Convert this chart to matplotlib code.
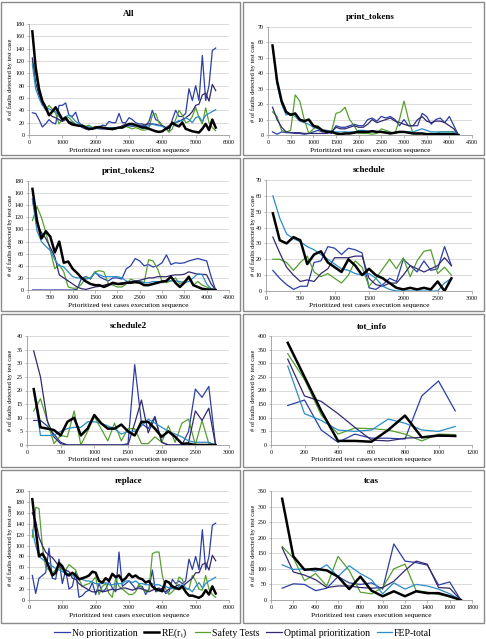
import numpy as np
import matplotlib
matplotlib.use('Agg')
from matplotlib import pyplot as plt
from matplotlib.patches import Rectangle

plt.rcParams['font.family'] = ['Liberation Serif', 'DejaVu Serif']
plt.rcParams['mathtext.fontset'] = 'stix'

series_names = ['No prioritization', 'RE(r$_\\mathregular{i}$)', 'Safety Tests',
                'Optimal prioritization', 'FEP-total']
colors = ['#2B3FA6', '#000000', '#55A02F', '#33296E', '#2C8CC6']
widths = [0.9, 1.8, 0.9, 0.9, 0.9]

# ---- All (x = 100..5600)
all_x = np.arange(100, 5601, 100)
all_nop = [36,35,25,13,18,25,20,18,48,48, 52,32,30,37,20,15,10,8,12,10,
           12,16,15,22,20,20,35,20,20,28, 25,20,18,18,15,22,40,25,22,15,
           12,5,25,40,30,30,35,75,56,80, 56,129,56,80,137,141]
all_re = [168,110,75,55,45,32,38,45,35,25, 28,20,17,16,15,15,12,10,10,12,
          13,12,11,10,10,11,12,12,15,18, 18,16,14,12,12,10,8,6,5,6,
          10,12,20,16,14,20,10,8,6,5, 4,10,18,8,25,12]
all_safe = [120,100,70,50,40,48,42,35,18,25, 30,28,22,18,15,16,14,16,12,14,
            12,10,12,10,8,10,12,15,14,12, 10,12,10,8,8,12,32,35,20,15,
            10,5,10,25,40,32,20,22,30,45, 28,18,44,20,12,7]
all_opt = [125,85,65,50,42,35,30,28,25,22, 25,22,20,16,15,12,10,10,12,12,
           10,10,10,10,10,10,12,15,18,15, 14,15,16,15,17,18,18,17,16,15,
           12,15,18,20,22,25,28,32,38,48, 50,65,68,55,82,72]
all_fep = [115,75,60,48,45,42,40,38,30,25, 30,32,28,22,18,15,14,13,12,12,
           12,10,10,12,12,11,12,12,14,15, 15,15,15,14,14,15,18,16,15,14,
           10,12,18,20,24,22,28,25,20,28, 30,22,32,35,38,41]

# ---- print_tokens (x = 100..4200)
pt_x = np.arange(100, 4201, 100)
pt_nop = [2,0.5,2,1.5,1.5,1,1,0.5,1,2, 3,2,2,1,6,5,5,6,7,6,
          6,10,11,9,12,11,12,10,6,10, 6,6,6,14,12,7,10,11,8,12, 6,0]
pt_re = [58,35,22,15,13,14,10,9,10,6, 5,3,2,2,1,0.5,1,1,1.5,2,
         2,2,2.5,2,2,1.5,1,1.5,2,2, 1.5,1,1,1,0.5,0.5,0.5,0.5,0.5,0.5, 0.5,0]
pt_safe = [15,12,3,2,3,26,22,10,1,4, 6,3,3,2,14,15,18,10,6,1,
           1,1,0.5,1,4,3,2,1,10,22, 10,1,0.5,1,1,1,1,2,2,2, 2,0]
pt_opt = [18,10,5,2,1.5,1.5,1.5,1,1,1, 1,1,1,2,5,4,4,5,6,5,
          5,7,10,8,9,10,11,9,8,7, 6,6,10,12,9,8,9,9,8,6, 4,0]
pt_fep = [57,33,20,13,14,12,9,8,7,5, 4,3,3,2,2,2,2,2,2,3,
          3,2.5,2,2,2,2,1.5,1.5,2,2, 2,2,3,4,3,2,2,2,2,2, 2,0]

# ---- print_tokens2 (x = 100..4200)
pt2_x = np.arange(100, 4201, 100)
pt2_nop = [0,0,0,0,0,0,0,0,0,0, 1,20,22,18,30,22,18,15,20,20,
           18,35,40,52,48,40,42,38,40,45, 58,42,45,44,45,48,50,52,50,48, 22,0]
pt2_re = [167,115,85,97,88,62,80,45,47,35, 28,20,14,10,8,8,5,8,12,10,
          10,12,12,13,12,8,8,10,12,14, 15,22,12,5,12,22,8,5,2,1, 0.5,0]
pt2_safe = [115,138,120,95,65,35,42,30,5,3, 3,10,20,20,30,32,30,10,8,5,
            5,10,18,15,15,12,50,48,35,15, 12,15,20,10,15,18,8,14,8,5, 2,0]
pt2_opt = [150,110,95,85,70,55,25,20,15,10, 5,2,1,3,5,6,8,10,10,10,
           12,12,14,15,16,18,20,20,22,22, 22,24,25,25,26,30,28,26,26,25, 10,0]
pt2_fep = [150,98,80,72,65,50,40,38,30,22, 20,20,18,20,28,25,22,22,22,22,
           20,15,12,14,14,12,12,14,14,12, 15,15,15,14,12,14,20,27,25,10, 2,0]

# ---- schedule (x = 100..2700)
sc_x = np.arange(100, 2701, 100)
sc_nop = [13,8,4,1,3,3,18,19,28,27, 23,27,26,24,2,1,4,8,6,20, 16,12,19,13,14,28,16]
sc_re = [49,32,30,34,32,17,23,25,18,15, 12,20,16,10,14,10,8,5,2,1, 2,1,2,1,6,0,8]
sc_safe = [20,20,18,13,18,22,12,9,11,8, 5,10,19,15,3,8,14,20,14,21, 9,19,25,26,11,15,10]
sc_opt = [34,24,15,10,6,7,6,11,14,21, 21,21,22,22,8,4,3,5,5,10, 16,14,12,14,16,21,16]
sc_fep = [60,46,36,33,31,28,26,23,20,17, 14,13,11,10,11,8,3,1,0,0, 0,0,0,0,0,5,8]

# ---- schedule2 (x = 100..2800)
sc2_x = np.arange(100, 2801, 100)
sc2_nop = [9,9,7,4,1,0,0,0,0,0, 0,0,0,0,0.5,29.5,8,6,10.5,1, 0,0,0,5,20.5,17.5,21.5,0]
sc2_re = [20.5,6.5,6,5.5,3.5,8.5,10,3.5,6,11, 8,6,6,7.5,5,3.5,8.5,8.5,6,3, 5,3,0.5,0.5,0,0,0,0]
sc2_safe = [12.5,17,9,0.5,3.5,3,12.5,0,5,10.5, 6,1.5,8,1.5,6,6,0.5,0.5,3,1, 7,1,8,9.5,0,9,0.5,0]
sc2_opt = [34.5,25,9,3,0.5,0,0,0,0,0, 0,0,0,0,0,8,16.5,4.5,10,1, 0,0,0,1,12.5,9,13.5,0]
sc2_fep = [20,3.5,3.5,3.5,5,6,6.5,6.5,8.5,8.5, 8,7,6,4,5,5,7,9.5,8,6.5, 5,4,3,1.5,1,1,1,0]

# ---- tot_info (x = 100..1100)
ti_x = np.arange(100, 1101, 100)
ti_nop = [145,165,55,10,40,25,25,22,180,235,125]
ti_re = [375,250,125,15,15,12,55,108,28,35,33]
ti_safe = [335,240,110,40,62,60,55,40,15,40,38]
ti_opt = [315,180,160,115,65,18,15,25,28,32,32]
ti_fep = [290,115,90,55,50,55,95,80,55,50,68]

# ---- replace (x = 100..5600)
rp_x = np.arange(100, 5601, 100)
rp_nop = [45,12,40,45,50,95,40,38,75,30, 55,20,25,52,5,8,15,18,32,10,
          30,15,20,35,22,15,88,25,30,35, 28,20,25,25,10,20,55,15,18,22,
          12,15,38,30,35,30,35,75,56,80, 56,129,56,80,137,141]
rp_re = [185,130,80,85,75,60,45,50,68,62, 48,45,50,45,38,40,42,45,52,50,
         35,32,40,35,48,42,45,35,40,48, 42,45,40,38,32,35,25,20,18,16,
         35,32,25,22,20,25,15,8,8,6, 4,8,18,10,25,12]
rp_safe = [115,170,168,100,60,55,50,55,60,55, 55,65,60,55,38,25,28,30,35,42,
           10,25,30,12,5,40,25,20,15,10, 10,15,30,20,15,18,85,88,88,45,
           20,10,15,22,42,38,20,20,45,35, 20,18,45,20,10,5]
rp_opt = [160,145,115,100,88,82,78,70,62,58, 55,52,40,38,30,25,22,18,15,15,
          18,15,16,18,20,18,20,22,22,20, 18,20,22,20,18,15,18,20,22,18,
          15,20,22,25,28,25,30,35,40,50, 50,65,68,55,82,72]
rp_fep = [128,100,80,75,70,68,62,58,55,52, 50,48,45,42,40,38,35,35,33,30,
          30,30,32,28,28,30,30,30,35,35, 32,35,30,30,28,28,30,28,28,25,
          25,22,22,20,25,28,22,20,15,25, 32,22,30,35,38,42]

# ---- tcas (x = 100..1700)
tc_x = np.arange(100, 1701, 100)
tc_nop = [38,52,50,30,38,75,55,50,55,35,180,125,120,112,48,58,0]
tc_re = [325,140,97,100,95,75,35,75,30,12,28,12,28,22,22,12,0]
tc_safe = [172,135,62,85,45,140,95,25,20,40,100,115,30,25,18,10,0]
tc_opt = [168,90,80,65,40,45,45,40,38,40,60,95,125,115,40,38,0]
tc_fep = [113,98,100,92,113,75,110,85,65,20,55,35,50,45,35,20,0]

# title, x, series, ymax, ystep, xmax, xstep
panels = [
    ('All', all_x, [all_nop, all_re, all_safe, all_opt, all_fep], 180, 20, 6000, 1000),
    ('print_tokens', pt_x, [pt_nop, pt_re, pt_safe, pt_opt, pt_fep], 70, 10, 4500, 500),
    ('print_tokens2', pt2_x, [pt2_nop, pt2_re, pt2_safe, pt2_opt, pt2_fep], 180, 20, 4500, 500),
    ('schedule', sc_x, [sc_nop, sc_re, sc_safe, sc_opt, sc_fep], 70, 10, 3000, 500),
    ('schedule2', sc2_x, [sc2_nop, sc2_re, sc2_safe, sc2_opt, sc2_fep], 40, 5, 3000, 500),
    ('tot_info', ti_x, [ti_nop, ti_re, ti_safe, ti_opt, ti_fep], 400, 50, 1200, 200),
    ('replace', rp_x, [rp_nop, rp_re, rp_safe, rp_opt, rp_fep], 200, 20, 6000, 1000),
    ('tcas', tc_x, [tc_nop, tc_re, tc_safe, tc_opt, tc_fep], 350, 50, 1800, 200),
]

# layout in pixels (x0, x1, ytop, ybottom) of each plot area
W, H = 486, 639
plot_boxes = [(29, 229, 24, 135), (268, 472, 27, 135),
              (28, 229, 181, 290), (266, 472, 180, 291),
              (27, 229, 336, 445), (271, 472, 336, 445),
              (29, 229, 491, 600), (271, 472, 491, 600)]
row_tops = [2, 158, 314, 470]
col_lr = [(1, 240), (243, 484)]

fig = plt.figure(figsize=(W / 100, H / 100), dpi=100)

def fx(px):
    return px / W

def fy(py):
    return 1 - py / H

# panel frames
for r in row_tops:
    for (l, rr) in col_lr:
        fig.patches.append(Rectangle((fx(l), fy(r + 153)), fx(rr - l), 153 / H,
                                     transform=fig.transFigure, fill=False,
                                     edgecolor='#8a8a8a', lw=1.0))

lines = []
for i, (title, xs, ser, ymax, ystep, xmax, xstep) in enumerate(panels):
    x0, x1, yt, yb = plot_boxes[i]
    ax = fig.add_axes([fx(x0), fy(yb), fx(x1 - x0), (yb - yt) / H])
    for k in range(5):
        ln, = ax.plot(xs, ser[k], color=colors[k], lw=widths[k], zorder=3 + (k == 1))
        if i == 0:
            lines.append(ln)
    ax.set_xlim(0, xmax)
    ax.set_ylim(0, ymax)
    ax.set_xticks(np.arange(0, xmax + 1, xstep))
    ax.set_yticks(np.arange(0, ymax + 1, ystep))
    ax.grid(axis='y', color='#d4d4d4', lw=0.6)
    ax.set_axisbelow(True)
    for s in ['top', 'right']:
        ax.spines[s].set_visible(False)
    for s in ['left', 'bottom']:
        ax.spines[s].set_color('#9a9a9a')
        ax.spines[s].set_linewidth(0.6)
    ax.tick_params(labelsize=4.3, length=1.8, width=0.5, color='#9a9a9a', pad=1.5)
    cx = (x0 + x1) / 2
    col = 0 if x0 < 240 else 1
    fig.text(fx(cx), fy(yt - 10), title, ha='center', va='center',
             fontsize=6.5, fontweight='bold')
    fig.text(fx(cx), fy(yb + 15), 'Prioritized test cases execution sequence',
             ha='center', va='center', fontsize=5.3)
    fig.text(fx(10 if col == 0 else 253), fy((yt + yb) / 2),
             '# of faults detected by test case', rotation=90,
             ha='center', va='center', fontsize=4.6)

fig.legend(lines, series_names, loc='center', bbox_to_anchor=(0.5, fy(633)),
           ncol=5, frameon=False, fontsize=7, handlelength=1.6,
           handletextpad=0.2, columnspacing=0.7, borderpad=0)

plt.savefig('out.png', dpi=100)
